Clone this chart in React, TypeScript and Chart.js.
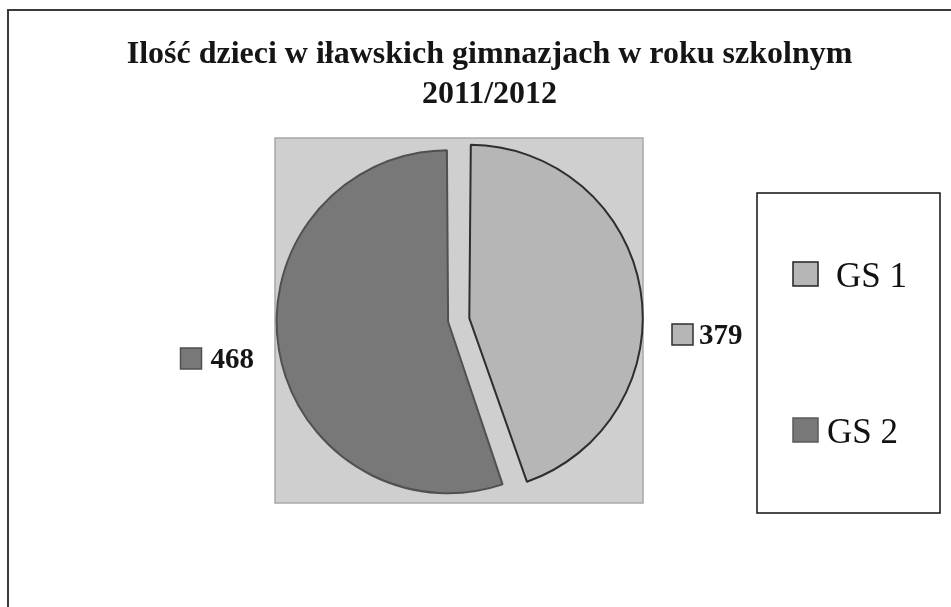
import React, { useEffect, useRef } from "react";
import { Chart, registerables } from "chart.js";

Chart.register(...registerables);

const categories = ["GS 1", "GS 2"];
const values = [379, 468];
const titleLines = ["Ilość dzieci w iławskich gimnazjach w roku szkolnym", "2011/2012"];

const sliceColors = ["#b6b6b6", "#787878"];
const sliceBorders = ["#2e2e2e", "#505050"];
const sliceOffsets = [56, 30];

const W = 951;
const H = 607;
const BOX = { l: 275, t: 138, r: 643, b: 503 };

const decorPlugin = {
  id: "decor",
  beforeDraw(chart: any) {
    const ctx = chart.ctx as CanvasRenderingContext2D;
    ctx.save();
    ctx.fillStyle = "#ffffff";
    ctx.fillRect(0, 0, chart.width, chart.height);
    // outer frame (left + top edges visible)
    ctx.strokeStyle = "#3a3a3a";
    ctx.lineWidth = 2;
    ctx.beginPath();
    ctx.moveTo(8, chart.height + 5);
    ctx.lineTo(8, 10);
    ctx.lineTo(chart.width + 5, 10);
    ctx.stroke();
    // plot area box
    ctx.fillStyle = "#cfcfcf";
    ctx.fillRect(BOX.l, BOX.t, BOX.r - BOX.l, BOX.b - BOX.t);
    ctx.strokeStyle = "#a8a8a8";
    ctx.lineWidth = 1.5;
    ctx.strokeRect(BOX.l, BOX.t, BOX.r - BOX.l, BOX.b - BOX.t);
    // title
    ctx.fillStyle = "#151515";
    ctx.font = 'bold 32px "Liberation Serif", "Times New Roman", serif';
    ctx.textAlign = "center";
    ctx.textBaseline = "alphabetic";
    ctx.fillText(titleLines[0], 489.5, 63);
    ctx.fillText(titleLines[1], 489.5, 103);
    ctx.restore();
  },
  afterDraw(chart: any) {
    const ctx = chart.ctx as CanvasRenderingContext2D;
    const meta = chart.getDatasetMeta(0);
    ctx.save();
    // data labels
    ctx.font = 'bold 29px "Liberation Serif", "Times New Roman", serif';
    ctx.textBaseline = "alphabetic";
    meta.data.forEach((arc: any, i: number) => {
      const p = arc.getProps(["x", "y", "outerRadius", "startAngle", "endAngle"], true);
      const mid = (p.startAngle + p.endAngle) / 2;
      const rEff = p.outerRadius + 9;
      const text = String(values[i]);
      const tw = ctx.measureText(text).width;
      const sq = 21;
      let sqLeft: number, textLeft: number, cy: number;
      if (Math.cos(mid) >= 0) {
        sqLeft = p.x + rEff + 43.5;
        textLeft = sqLeft + sq + 6;
        cy = p.y + 14;
      } else {
        const textRight = p.x - rEff - 28.5;
        textLeft = textRight - tw;
        sqLeft = textLeft - 9 - sq;
        cy = p.y + 38;
      }
      ctx.fillStyle = sliceColors[i];
      ctx.fillRect(sqLeft, cy - sq / 2, sq, sq);
      ctx.strokeStyle = sliceBorders[i];
      ctx.lineWidth = 1.5;
      ctx.strokeRect(sqLeft, cy - sq / 2, sq, sq);
      ctx.fillStyle = "#151515";
      ctx.textAlign = "left";
      ctx.fillText(text, textLeft, cy + 9.5);
    });
    // legend box
    ctx.strokeStyle = "#111111";
    ctx.lineWidth = 1.5;
    ctx.strokeRect(757, 193, 183, 320);
    ctx.font = '35px "Liberation Serif", "Times New Roman", serif';
    const rows = [274, 430];
    const textX = [836, 827];
    categories.forEach((c, i) => {
      const cy = rows[i];
      ctx.fillStyle = sliceColors[i];
      ctx.fillRect(793, cy - 12, 25, 24);
      ctx.strokeStyle = i === 0 ? "#222222" : "#5a5a5a";
      ctx.lineWidth = 1.5;
      ctx.strokeRect(793, cy - 12, 25, 24);
      ctx.fillStyle = "#111111";
      ctx.textAlign = "left";
      ctx.fillText(c, textX[i], cy + 13);
    });
    ctx.restore();
  },
};

export default function App() {
  const ref = useRef<HTMLCanvasElement | null>(null);
  useEffect(() => {
    if (!ref.current) return;
    const chart = new Chart(ref.current, {
      type: "pie",
      data: {
        labels: categories,
        datasets: [
          {
            data: values,
            backgroundColor: sliceColors,
            borderColor: sliceBorders,
            borderWidth: 2,
            offset: sliceOffsets,
            radius: 164,
          } as any,
        ],
      },
      options: {
        responsive: false,
        animation: false,
        devicePixelRatio: 1,
        layout: { padding: { left: 271, right: W - 640, top: 138, bottom: H - 503 } },
        plugins: {
          legend: { display: false },
          title: { display: false },
          tooltip: { enabled: false },
        },
      },
      plugins: [decorPlugin],
    });
    return () => chart.destroy();
  }, []);
  return (
    <div style={{ position: "absolute", left: 0, top: 0, width: W, height: H, overflow: "hidden", background: "#fff" }}>
      <canvas ref={ref} width={W} height={H} style={{ display: "block" }} />
    </div>
  );
}
